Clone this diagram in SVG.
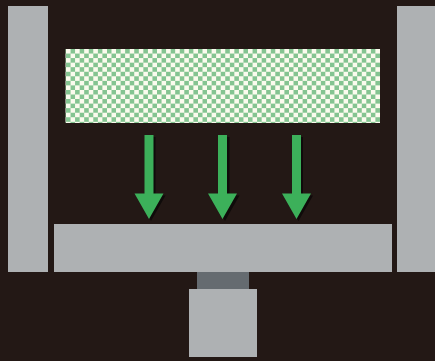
<svg xmlns="http://www.w3.org/2000/svg" width="435" height="361" viewBox="0 0 435 361">
<style>
.plate{fill:#aeb1b3}
.arrow{fill:#3cb05a}
.shadow{fill:#0f0b0a}
</style>
<defs>
<pattern id="checker" patternUnits="userSpaceOnUse" x="66" y="49" width="9.1" height="9.1">
<rect width="9.1" height="9.1" fill="#84c491"/>
<rect x="0" y="0" width="4.55" height="4.55" fill="#fbfbee"/>
<rect x="4.55" y="4.55" width="4.55" height="4.55" fill="#fbfbee"/>
</pattern>
<g id="arrowshape"><path d="M-4.500 0H4.500V58.500H14.500L0 84L-14.500 58.500H-4.500Z"/></g>
</defs>
<rect width="435" height="361" fill="#231815"/>
<g id="left-wall"><rect class="plate" x="8" y="6" width="40" height="266"/></g>
<g id="right-wall"><rect class="plate" x="397" y="6" width="38" height="266"/></g>
<g id="checker-panel"><rect x="65.500" y="49" width="314.500" height="74" fill="url(#checker)"/></g>
<g id="base-plate"><rect class="plate" x="54" y="224" width="338" height="48"/></g>
<g id="neck"><rect x="197" y="272" width="52" height="17" fill="#656b70"/></g>
<g id="foot"><rect class="plate" x="189" y="289" width="68" height="68"/></g>
<g id="connectors">
<use href="#arrowshape" class="shadow" x="151" y="137"/>
<use href="#arrowshape" class="arrow" x="149" y="135"/>
<use href="#arrowshape" class="shadow" x="225" y="137"/>
<use href="#arrowshape" class="arrow" x="222.500" y="135"/>
<use href="#arrowshape" class="shadow" x="298.500" y="137"/>
<use href="#arrowshape" class="arrow" x="296.500" y="135"/>
</g>
</svg>
